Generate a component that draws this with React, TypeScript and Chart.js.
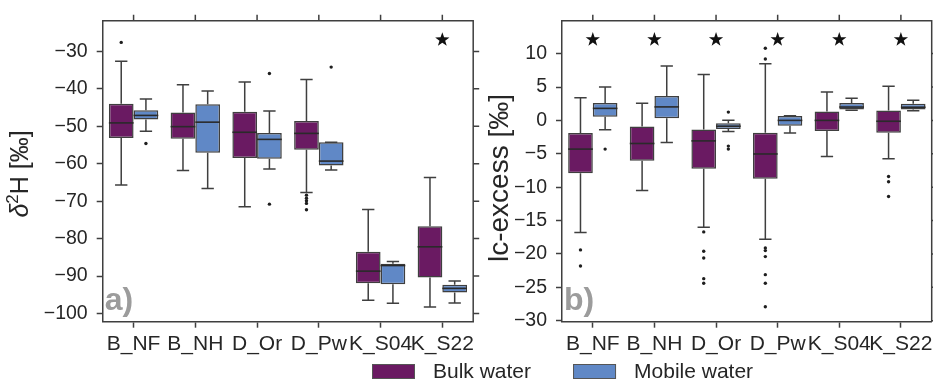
import React, { useEffect, useRef } from 'react';
import { Chart, registerables } from 'chart.js';

Chart.register(...registerables);

// ---------------- data ----------------
const categories = ['B_NF', 'B_NH', 'D_Or', 'D_Pw', 'K_S04', 'K_S22'];
const seriesNames = ['Bulk water', 'Mobile water'];
const seriesColors = ['#6a1a62', '#6088c6'];

// each entry: [lower whisker, Q1, median, Q3, upper whisker]
const h2Bulk = [
  [-65.7, -53.1, -49.1, -44.0, -32.6],
  [-61.8, -53.3, -50.1, -46.3, -38.9],
  [-71.5, -58.5, -51.6, -46.1, -38.2],
  [-67.7, -56.3, -51.9, -48.6, -37.5],
  [-96.5, -91.9, -88.7, -83.5, -72.2],
  [-98.3, -90.4, -82.2, -76.7, -63.7],
];
const h2BulkOutliers = [[-27.6], [], [], [-68.4, -69.2, -69.9, -70.6, -72.3], [], []];

const h2Mobile = [
  [-51.3, -48.2, -47.1, -45.7, -42.7],
  [-66.6, -57.1, -48.9, -44.1, -40.6],
  [-61.4, -58.7, -53.5, -51.8, -45.9],
  [-61.7, -60.5, -59.3, -54.3, -54.3],
  [-97.3, -92.2, -87.2, -86.7, -86.1],
  [-97.2, -94.4, -93.3, -92.3, -91.3],
];
const h2MobileOutliers = [[-54.6], [], [-35.9, -70.8], [-34.2], [], []];

const lcBulk = [
  [-16.8, -7.9, -4.3, -1.9, 3.4],
  [-10.5, -6.05, -3.46, -0.9, 2.56],
  [-16.0, -7.23, -3.07, -1.36, 6.87],
  [-17.8, -8.75, -5.03, -1.85, 8.48],
  [-5.42, -1.6, 0.0, 1.34, 4.27],
  [-5.76, -1.85, -0.13, 1.48, 5.1],
];
const lcBulkOutliers = [
  [-19.4, -21.8],
  [],
  [-16.7, -19.6, -20.6, -23.7, -24.4],
  [10.8, 9.2, -19.1, -19.5, -20.4, -23.1, -24.4, -27.9],
  [],
  [-8.4, -9.2, -11.4],
];

const lcMobile = [
  [-1.4, 0.55, 1.8, 2.6, 5.0],
  [-3.3, 0.31, 2.02, 3.64, 8.14],
  [-1.65, -1.3, -0.87, -0.43, 0.01],
  [-1.9, -0.82, 0.0, 0.65, 0.7],
  [1.53, 1.63, 2.0, 2.6, 3.3],
  [1.43, 1.63, 1.97, 2.5, 3.0],
];
const lcMobileOutliers = [[-4.3], [], [1.24, -3.85, -4.3], [], [], []];

const h2Ticks = [-30, -40, -50, -60, -70, -80, -90, -100];
const lcTicks = [10, 5, 0, -5, -10, -15, -20, -25, -30];

// significance stars (null = none)
const h2Stars = [null, null, null, null, null, -26.9];
const lcStars = [12.1, 12.1, 12.1, 12.1, 12.1, 12.1];

// ---------------- style ----------------
const EDGE = '#3f3f3f';
const TEXT = '#262626';
const FONT = "'Liberation Sans', Arial, sans-serif";
const W = 933;
const H = 389;

const fmtTick = (v: number) => String(v).replace('-', '\u2212');

const boxPlugin = {
  id: 'boxplot',
  afterDatasetsDraw(chart: any) {
    const ctx = chart.ctx;
    const y = chart.scales.y;
    chart.data.datasets.forEach((ds: any, di: number) => {
      const meta = chart.getDatasetMeta(di);
      meta.data.forEach((bar: any, i: number) => {
        const s = ds.stats[i];
        const x = bar.x;
        const w = bar.width;
        const p = s.map((v: number) => y.getPixelForValue(v));
        ctx.save();
        ctx.strokeStyle = EDGE;
        ctx.lineWidth = 1.5;
        ctx.beginPath();
        ctx.moveTo(x, p[3]);
        ctx.lineTo(x, p[4]);
        ctx.moveTo(x, p[1]);
        ctx.lineTo(x, p[0]);
        ctx.moveTo(x - w / 4, p[4]);
        ctx.lineTo(x + w / 4, p[4]);
        ctx.moveTo(x - w / 4, p[0]);
        ctx.lineTo(x + w / 4, p[0]);
        ctx.stroke();
        ctx.beginPath();
        ctx.lineWidth = 1.6;
        ctx.strokeStyle = '#2a2a2a';
        ctx.moveTo(x - w / 2, p[2]);
        ctx.lineTo(x + w / 2, p[2]);
        ctx.stroke();
        ctx.fillStyle = '#1e1e1e';
        (ds.outliers[i] || []).forEach((o: number) => {
          ctx.beginPath();
          ctx.arc(x, y.getPixelForValue(o), 1.7, 0, Math.PI * 2);
          ctx.fill();
        });
        ctx.restore();
      });
    });
  },
};

function starPath(ctx: CanvasRenderingContext2D, cx: number, cy: number, R: number, r: number) {
  ctx.beginPath();
  for (let k = 0; k < 10; k++) {
    const rad = k % 2 === 0 ? R : r;
    const a = -Math.PI / 2 + (k * Math.PI) / 5;
    const px = cx + rad * Math.cos(a);
    const py = cy + rad * Math.sin(a);
    if (k === 0) ctx.moveTo(px, py);
    else ctx.lineTo(px, py);
  }
  ctx.closePath();
}

type TitlePart = { t: string; font: string; dy: number };

function drawRotatedTitle(ctx: CanvasRenderingContext2D, parts: TitlePart[], cx: number, cy: number) {
  ctx.save();
  ctx.translate(cx, cy);
  ctx.rotate(-Math.PI / 2);
  ctx.fillStyle = TEXT;
  ctx.textBaseline = 'middle';
  ctx.textAlign = 'left';
  let total = 0;
  parts.forEach((p) => {
    ctx.font = p.font;
    total += ctx.measureText(p.t).width;
  });
  let x = -total / 2;
  parts.forEach((p) => {
    ctx.font = p.font;
    ctx.fillText(p.t, x, p.dy);
    x += ctx.measureText(p.t).width;
  });
  ctx.restore();
}

const framePlugin = {
  id: 'frame',
  afterDraw(chart: any, _args: any, opts: any) {
    const ctx = chart.ctx;
    const { left, right, top, bottom } = chart.chartArea;
    const xs = chart.scales.x;
    const ys = chart.scales.y;
    ctx.save();
    ctx.strokeStyle = EDGE;
    ctx.lineWidth = 1.5;
    ctx.beginPath();
    ctx.moveTo(left, top);
    ctx.lineTo(right, top);
    ctx.lineTo(right, bottom);
    // mirrored ticks
    categories.forEach((_c, i) => {
      const px = xs.getPixelForValue(i);
      ctx.moveTo(px, top);
      ctx.lineTo(px, top - 6);
    });
    (opts.ticks as number[]).forEach((v) => {
      const py = ys.getPixelForValue(v);
      ctx.moveTo(right, py);
      ctx.lineTo(right + 6, py);
    });
    ctx.stroke();

    // category labels
    ctx.fillStyle = TEXT;
    ctx.font = `21px ${FONT}`;
    ctx.textAlign = 'center';
    ctx.textBaseline = 'alphabetic';
    categories.forEach((c, i) => {
      ctx.fillText(c, xs.getPixelForValue(i), bottom + 27.8);
    });

    // stars
    ctx.fillStyle = '#111';
    (opts.stars as (number | null)[]).forEach((v, i) => {
      if (v === null) return;
      starPath(ctx, xs.getPixelForValue(i), ys.getPixelForValue(v), 7.5, 3);
      ctx.fill();
    });

    // panel letter
    ctx.fillStyle = '#9c9c9c';
    ctx.font = `bold 32px ${FONT}`;
    ctx.textBaseline = 'alphabetic';
    ctx.textAlign = 'left';
    ctx.fillText(opts.letter, left + 2, bottom - 12);

    // y title
    drawRotatedTitle(ctx, opts.title, opts.titleX, opts.titleY);

    // legend
    if (opts.legend) {
      ctx.font = `21px ${FONT}`;
      ctx.textBaseline = 'middle';
      ctx.textAlign = 'left';
      let lx = 372;
      const ly = 364;
      chart.data.datasets.forEach((ds: any) => {
        ctx.fillStyle = ds.backgroundColor;
        ctx.fillRect(lx, ly, 43, 15);
        ctx.strokeStyle = '#555';
        ctx.lineWidth = 1;
        ctx.strokeRect(lx + 0.5, ly + 0.5, 42, 14);
        ctx.fillStyle = TEXT;
        const tx = lx + 61;
        ctx.fillText(ds.label, tx, ly + 8);
        lx = tx + ctx.measureText(ds.label).width + 42;
      });
    }
    ctx.restore();
  },
};

type Panel = {
  bulk: number[][];
  mobile: number[][];
  bulkOut: number[][];
  mobileOut: number[][];
  ticks: number[];
  stars: (number | null)[];
  min: number;
  max: number;
  title: TitlePart[];
  titleX: number;
  titleY: number;
  letter: string;
  padLeft: number;
  yWidth: number;
  padRight: number;
  legend: boolean;
};

function makeConfig(p: Panel): any {
  return {
    type: 'bar',
    data: {
      labels: categories,
      datasets: [
        {
          label: seriesNames[0],
          data: p.bulk.map((s) => [s[1], s[3]]),
          stats: p.bulk,
          outliers: p.bulkOut,
          backgroundColor: seriesColors[0],
          borderColor: EDGE,
          borderWidth: 1.5,
          borderSkipped: false,
          categoryPercentage: 0.8,
          barPercentage: 1,
        },
        {
          label: seriesNames[1],
          data: p.mobile.map((s) => [s[1], s[3]]),
          stats: p.mobile,
          outliers: p.mobileOut,
          backgroundColor: seriesColors[1],
          borderColor: EDGE,
          borderWidth: 1.5,
          borderSkipped: false,
          categoryPercentage: 0.8,
          barPercentage: 1,
        },
      ],
    },
    options: {
      responsive: false,
      animation: false,
      devicePixelRatio: 1,
      layout: { padding: { left: p.padLeft, right: p.padRight, top: 14.7, bottom: 0 } },
      plugins: {
        legend: { display: false },
        tooltip: { enabled: false },
        frame: {
          ticks: p.ticks,
          stars: p.stars,
          letter: p.letter,
          legend: p.legend,
          title: p.title,
          titleX: p.titleX,
          titleY: p.titleY,
        },
      },
      scales: {
        x: {
          type: 'category',
          offset: true,
          grid: {
            offset: false,
            drawOnChartArea: false,
            drawTicks: true,
            tickLength: 6,
            tickColor: EDGE,
            tickWidth: 1.5,
          },
          border: { display: true, color: EDGE, width: 1.5 },
          ticks: {
            font: { family: FONT, size: 12 },
            color: 'rgba(0,0,0,0)',
            padding: 2,
            maxRotation: 0,
            minRotation: 0,
            autoSkip: false,
          },
          afterFit: (s: any) => {
            s.height = H - 321.7;
          },
        },
        y: {
          type: 'linear',
          min: p.min,
          max: p.max,
          grid: {
            drawOnChartArea: false,
            drawTicks: true,
            tickLength: 6,
            tickColor: EDGE,
            tickWidth: 1.5,
          },
          border: { display: true, color: EDGE, width: 1.5 },
          ticks: {
            font: { family: FONT, size: 19.5 },
            color: TEXT,
            padding: 9,
            callback: (v: number) => fmtTick(v),
          },
          afterBuildTicks: (s: any) => {
            s.ticks = p.ticks.map((v) => ({ value: v }));
          },
          afterFit: (s: any) => {
            s.width = p.yWidth;
          },
        },
      },
    },
    plugins: [boxPlugin, framePlugin],
  };
}

const leftPanel: Panel = {
  bulk: h2Bulk,
  mobile: h2Mobile,
  bulkOut: h2BulkOutliers,
  mobileOut: h2MobileOutliers,
  ticks: h2Ticks,
  stars: h2Stars,
  min: -102.2,
  max: -21.8,
  title: [
    { t: 'δ', font: `italic 25px ${FONT}`, dy: 0 },
    { t: '2', font: `17px ${FONT}`, dy: -8 },
    { t: 'H [‰]', font: `25px ${FONT}`, dy: 0 },
  ],
  titleX: 21,
  titleY: 174,
  letter: 'a)',
  padLeft: 0,
  yWidth: 102.7,
  padRight: W - 473.2,
  legend: false,
};

const rightPanel: Panel = {
  bulk: lcBulk,
  mobile: lcMobile,
  bulkOut: lcBulkOutliers,
  mobileOut: lcMobileOutliers,
  ticks: lcTicks,
  stars: lcStars,
  min: -30.15,
  max: 14.93,
  title: [{ t: 'lc-excess [‰]', font: `28px ${FONT}`, dy: 0 }],
  titleX: 500,
  titleY: 178,
  letter: 'b)',
  padLeft: 480,
  yWidth: 82,
  padRight: W - 931.7,
  legend: true,
};

function PanelCanvas({ panel }: { panel: Panel }) {
  const ref = useRef<HTMLCanvasElement>(null);
  useEffect(() => {
    if (!ref.current) return;
    const chart = new Chart(ref.current, makeConfig(panel));
    return () => chart.destroy();
  }, [panel]);
  return (
    <canvas
      ref={ref}
      width={W}
      height={H}
      style={{ position: 'absolute', left: 0, top: 0, width: W, height: H }}
    />
  );
}

export default function App() {
  return (
    <div style={{ position: 'absolute', left: 0, top: 0, width: W, height: H, background: '#fff' }}>
      <PanelCanvas panel={leftPanel} />
      <PanelCanvas panel={rightPanel} />
    </div>
  );
}
